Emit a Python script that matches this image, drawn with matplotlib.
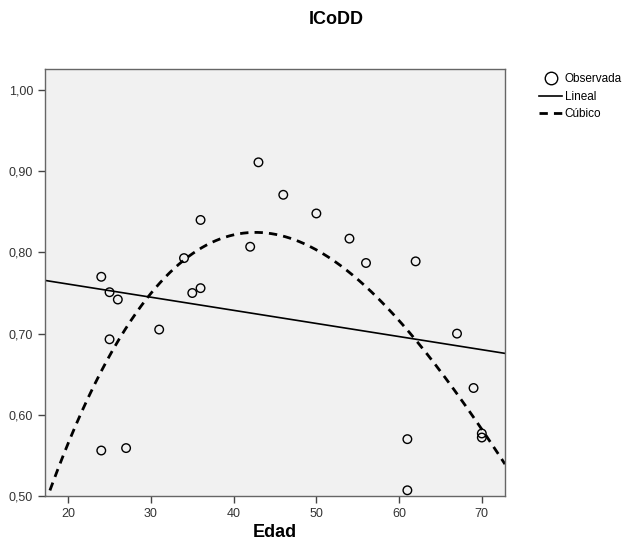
import numpy as np
import matplotlib.pyplot as plt
from matplotlib.lines import Line2D
from matplotlib.ticker import FuncFormatter

plt.rcParams['font.family'] = ['Liberation Sans', 'DejaVu Sans']

edad = [24, 25, 26, 34, 36, 35, 36, 42, 43, 46, 50, 54, 56, 62,
        25, 31, 24, 27, 67, 69, 70, 70, 61, 61]
icodd = [0.770, 0.751, 0.742, 0.793, 0.840, 0.750, 0.756, 0.807, 0.911, 0.871,
         0.848, 0.817, 0.787, 0.789, 0.693, 0.705, 0.556, 0.559, 0.700, 0.633,
         0.577, 0.572, 0.570, 0.507]

x = np.array(edad)
y = np.array(icodd)

# ajustes lineal y cúbico
lin = np.polyfit(x, y, 1)
cub = np.polyfit(x, y, 3)
xs = np.linspace(17.2, 72.8, 300)

fig = plt.figure(figsize=(6.27, 5.43), dpi=100)
ax = fig.add_axes([0.0718, 0.0866, 0.7336, 0.7864])
ax.set_facecolor('#f1f1f1')

ax.plot(xs, np.polyval(lin, xs), color='black', lw=1.2)
ax.plot(xs, np.polyval(cub, xs), color='black', lw=2.0, dashes=(3, 2.2))
ax.scatter(x, y, s=38, facecolors='none', edgecolors='black', linewidths=1.0, zorder=3)

ax.set_xlim(17.2, 72.8)
ax.set_ylim(0.5, 1.026)
ax.set_xticks([20, 30, 40, 50, 60, 70])
ax.set_yticks([0.5, 0.6, 0.7, 0.8, 0.9, 1.0])
ax.yaxis.set_major_formatter(FuncFormatter(lambda v, p: f'{v:.2f}'.replace('.', ',')))
ax.tick_params(direction='out', length=5, width=1, colors='#444444', labelsize=9,
               labelcolor='#333333', top=False, right=False)
for s in ax.spines.values():
    s.set_color('#666666')
    s.set_linewidth(1.0)

ax.set_xlabel('Edad', fontsize=13, fontweight='bold', labelpad=3)
fig.text(0.537, 0.964, 'ICoDD', ha='center', va='center', fontsize=13, fontweight='bold')

handles = [
    Line2D([], [], marker='o', ls='none', markersize=9, markerfacecolor='none',
           markeredgecolor='black', markeredgewidth=1.0),
    Line2D([], [], color='black', lw=1.2),
    Line2D([], [], color='black', lw=2.0, dashes=(3, 2.2)),
]
fig.legend(handles, ['Observada', 'Lineal', 'Cúbico'], loc='upper left',
           bbox_to_anchor=(0.848, 0.878), frameon=False, fontsize=8.5,
           handlelength=2.0, handletextpad=0.2, labelspacing=0.45, borderaxespad=0.2)

fig.savefig('out.png', dpi=100)
